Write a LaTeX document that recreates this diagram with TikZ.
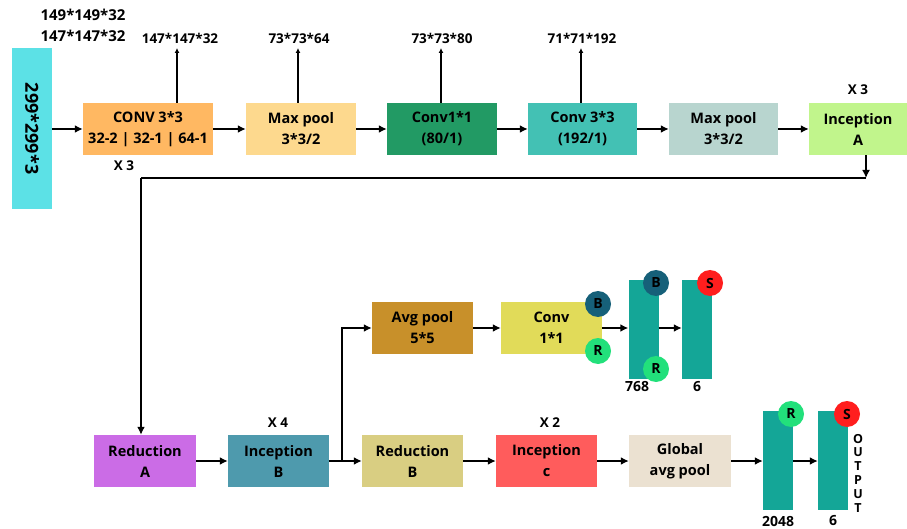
\documentclass[tikz,border=0pt]{standalone}
\usepackage{fontspec}
\setmainfont{Open Sans}
\usetikzlibrary{arrows.meta}
\definecolor{cinp}{HTML}{5CE1E6}
\definecolor{cconv}{HTML}{FFB862}
\definecolor{cmpa}{HTML}{FDD98E}
\definecolor{cconva}{HTML}{229A64}
\definecolor{cconvb}{HTML}{43C1B4}
\definecolor{cmpb}{HTML}{B8D5CF}
\definecolor{cinca}{HTML}{C1F58C}
\definecolor{creda}{HTML}{CB6CE6}
\definecolor{cincb}{HTML}{4E9AAD}
\definecolor{credb}{HTML}{D9CE82}
\definecolor{cincc}{HTML}{FF5C5C}
\definecolor{cgap}{HTML}{EBE1D1}
\definecolor{cavg}{HTML}{C8902A}
\definecolor{cconvc}{HTML}{E1DB59}
\definecolor{cbar}{HTML}{14A697}
\definecolor{ccb}{HTML}{166079}
\definecolor{ccr}{HTML}{22E07B}
\definecolor{ccs}{HTML}{FF1E1E}
\tikzset{
  blk/.style={minimum height=52pt, inner sep=0pt, align=center, font=\bfseries\fontsize{14.5}{21}\selectfont},
  bar/.style={fill=cbar, minimum width=30pt, minimum height=99pt, inner sep=0pt},
  dot/.style={circle, minimum size=26pt, inner sep=0pt, font=\bfseries\fontsize{14}{16}\selectfont},
  lbl/.style={font=\bfseries\fontsize{13.5}{15}\selectfont, inner sep=0pt},
  conn/.style={line width=2.2pt, -{Latex[length=8pt,width=8pt]}},
  line/.style={line width=2.2pt},
  up/.style={line width=1.2pt, -{Latex[length=5pt,width=5pt]}}
}
\begin{document}
\begin{tikzpicture}[x=1pt,y=-1pt]
\useasboundingbox (0,0) rectangle (907,529);
% top row
\node[fill=cinp, minimum width=40pt, minimum height=161pt, inner sep=0pt] (inp) at (32,128.5) {};
\node[rotate=-90, font=\bfseries\fontsize{18}{20}\selectfont] (inpt) at (inp.center) {299*299*3};
\node[blk, fill=cconv, minimum width=130pt] (conv) at (148,129) {CONV 3*3\\32-2 | 32-1 | 64-1};
\node[blk, fill=cmpa, minimum width=110pt] (mpa) at (301,129) {Max pool\\3*3/2};
\node[blk, fill=cconva, minimum width=110pt] (conva) at (442,129) {Conv1*1\\(80/1)};
\node[blk, fill=cconvb, minimum width=109pt] (convb) at (582.5,129) {Conv 3*3\\(192/1)};
\node[blk, fill=cmpb, minimum width=109pt] (mpb) at (723.5,129) {Max pool\\3*3/2};
\node[blk, fill=cinca, minimum width=98pt] (inca) at (858,129) {Inception\\A};

\node[lbl, font=\bfseries\fontsize{15}{17}\selectfont] (la) at (83,15) {149*149*32};
\node[lbl, font=\bfseries\fontsize{15}{17}\selectfont] (lb) at (83,36) {147*147*32};
\node[lbl] (xa) at (124,166) {X 3};
\node[lbl] (xb) at (858,90) {X 3};

\coordinate (ua) at (177,48);
\coordinate (ub) at (298,48);
\coordinate (uc) at (441,48);
\coordinate (ud) at (581,48);
\node[lbl] (lc) at (180,38) {147*147*32};
\node[lbl] (ld) at (299,38) {73*73*64};
\node[lbl] (le) at (442,38) {73*73*80};
\node[lbl] (lf) at (582,38) {71*71*192};
\draw[up] (conv.north -| ua) -- (ua);
\draw[up] (mpa.north -| ub) -- (ub);
\draw[up] (conva.north -| uc) -- (uc);
\draw[up] (convb.north -| ud) -- (ud);

\draw[conn] (inp.east |- conv.west) -- (conv.west);
\draw[conn] (conv) -- (mpa);
\draw[conn] (mpa) -- (conva);
\draw[conn] (conva) -- (convb);
\draw[conn] (convb) -- (mpb);
\draw[conn] (mpb) -- (inca);

% bottom row
\node[blk, fill=creda, minimum width=102pt] (reda) at (145,461) {Reduction\\A};
\node[blk, fill=cincb, minimum width=101pt] (incb) at (278.5,461) {Inception\\B};
\node[blk, fill=credb, minimum width=101pt] (redb) at (412.5,461) {Reduction\\B};
\node[blk, fill=cincc, minimum width=101pt] (incc) at (546.5,461) {Inception\\c};
\node[blk, fill=cgap, minimum width=102pt] (gap) at (680,461) {Global\\avg pool};
\node[lbl] (xc) at (278,423) {X 4};
\node[lbl] (xd) at (550,423) {X 2};

\coordinate (da) at (866,178);
\coordinate (db) at (141,178);
\draw[conn] (inca.south -| da) -- (da);
\draw[line] (da) -- (db);
\draw[conn] (db) -- (reda.north -| db);

\draw[conn] (reda) -- (incb);
\draw[conn] (incb) -- (redb);
\draw[conn] (redb) -- (incc);
\draw[conn] (incc) -- (gap);

\node[bar] (bra) at (778,460.5) {};
\node[bar] (brb) at (833,460.5) {};
\draw[conn] (gap.east) -- (bra.west |- gap.east);
\draw[conn] (bra.east |- gap.east) -- (brb.west |- gap.east);
\node[dot, fill=ccr] (ra) at (791,414) {R};
\node[dot, fill=ccs] (sa) at (847,414) {S};
\node[lbl, font=\bfseries\fontsize{14}{16}\selectfont] (n2048) at (778,521) {2048};
\node[lbl, font=\bfseries\fontsize{14}{16}\selectfont] (n6a) at (833,521) {6};
\node[font=\bfseries\fontsize{12.5}{13.8}\selectfont, align=center, inner sep=0pt] (out) at (858,473) {O\\U\\T\\P\\U\\T};

% branch
\node[blk, fill=cavg, minimum width=101pt] (avg) at (422.5,328) {Avg pool\\5*5};
\node[blk, fill=cconvc, minimum width=101pt] (convc) at (551.5,328) {Conv\\1*1};
\coordinate (br) at (342,461);
\draw[conn] (br) |- (avg.west);
\draw[conn] (avg) -- (convc);
\node[bar] (brc) at (643.5,329) {};
\node[bar] (brd) at (697,329) {};
\draw[conn] (convc.east) -- (brc.west |- convc.east);
\draw[conn] (brc.east |- convc.east) -- (brd.west |- convc.east);
\node[dot, fill=ccb] (ba) at (598,304) {B};
\node[dot, fill=ccr] (rb) at (598,351) {R};
\node[dot, fill=ccb] (bb) at (656,283) {B};
\node[dot, fill=ccr] (rc) at (656,369) {R};
\node[dot, fill=ccs] (sb) at (710,283) {S};
\node[lbl, font=\bfseries\fontsize{14}{16}\selectfont] (n768) at (637,387) {768};
\node[lbl, font=\bfseries\fontsize{14}{16}\selectfont] (n6b) at (697,387) {6};
\end{tikzpicture}
\end{document}
